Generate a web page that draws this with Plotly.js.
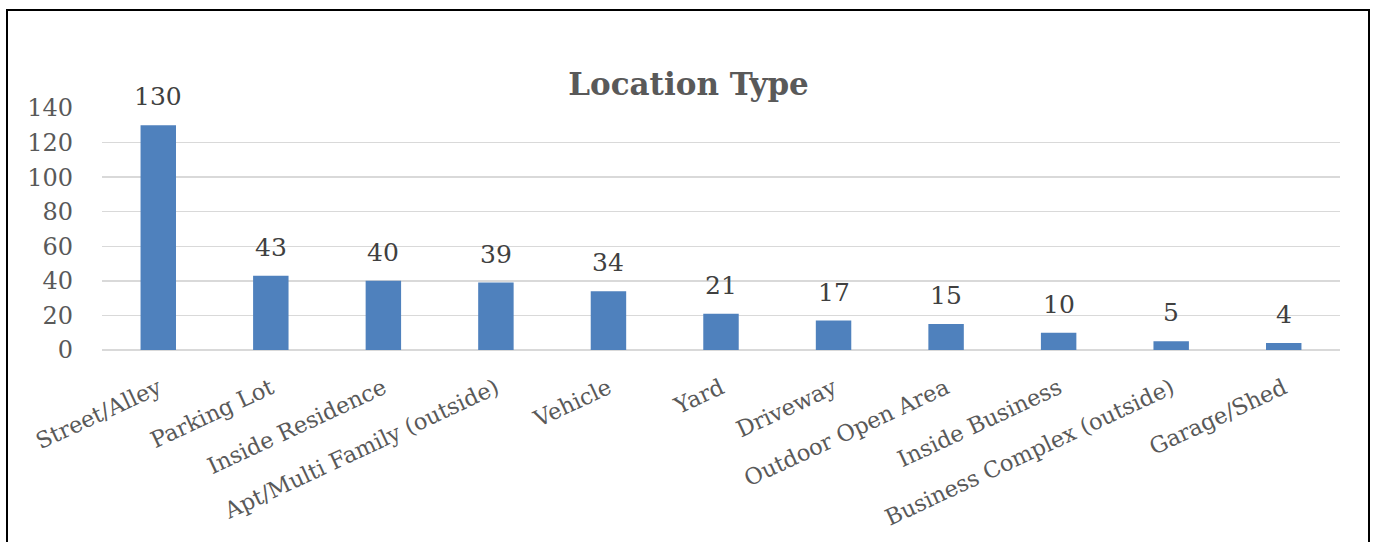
<!DOCTYPE html>
<html>
<head>
<meta charset="utf-8">
<script src="https://cdn.plot.ly/plotly-3.0.1.min.js"></script>
<style>
  html, body { margin: 0; padding: 0; background: #fff; overflow: hidden; }
  #wrap { position: relative; width: 1377px; height: 542px; }
  #chart { position: absolute; left: 0; top: 0; width: 1377px; height: 542px; }
  #frame { position: absolute; left: 6px; top: 9px; width: 1360px; height: 560px;
           border: 2px solid #000; pointer-events: none; }
</style>
</head>
<body>
<div id="wrap">
  <div id="chart"></div>
  <div id="frame"></div>
</div>
<script>
const categories = ["Street/Alley", "Parking Lot", "Inside Residence", "Apt/Multi Family (outside)",
  "Vehicle", "Yard", "Driveway", "Outdoor Open Area", "Inside Business",
  "Business Complex (outside)", "Garage/Shed"];
const counts = [130, 43, 40, 39, 34, 21, 17, 15, 10, 5, 4];
const yTicks = [0, 20, 40, 60, 80, 100, 120, 140];

const FONT = "DejaVu Serif, Liberation Serif, serif";

const trace = {
  type: "bar",
  x: categories,
  y: counts,
  marker: { color: "#4F81BD" },
  hoverinfo: "x+y"
};

const annotations = categories.map((c, i) => ({
  x: c, y: counts[i], xref: "x", yref: "y",
  text: String(counts[i]), showarrow: false,
  yanchor: "bottom", yshift: 12,
  font: { family: FONT, size: 25, color: "#404040" }
}));

const layout = {
  width: 1377, height: 542,
  margin: { l: 102, r: 37, t: 108, b: 192 },
  paper_bgcolor: "#fff", plot_bgcolor: "#fff",
  bargap: 0.685,
  showlegend: false,
  title: {
    text: "<b>Location Type</b>",
    x: 0.5, xanchor: "center", xref: "container",
    y: 1 - 84/542, yanchor: "middle", yref: "container",
    font: { family: FONT, size: 31, color: "#595959" }
  },
  xaxis: {
    type: "category",
    tickangle: -25,
    tickfont: { family: FONT, size: 22.5, color: "#595959" },
    showgrid: false, zeroline: false, showline: false,
    ticks: "", ticklen: 0, ticklabelstandoff: 20
  },
  yaxis: {
    range: [0, 140],
    tickvals: yTicks,
    ticktext: yTicks.map(String),
    tickfont: { family: FONT, size: 24, color: "#595959" },
    showgrid: true, gridcolor: "#D9D9D9", gridwidth: 1.5,
    zeroline: true, zerolinecolor: "#D9D9D9", zerolinewidth: 1.5,
    showline: false, ticks: "", ticklabelstandoff: 28
  },
  annotations: annotations
};

Plotly.newPlot("chart", [trace], layout, { displayModeBar: false, staticPlot: true });
</script>
</body>
</html>
